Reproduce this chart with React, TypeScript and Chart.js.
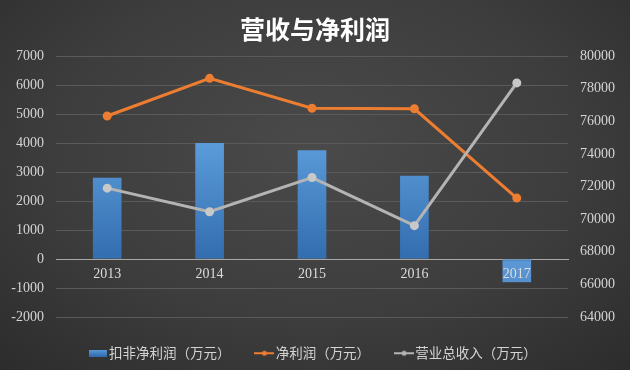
import React, { useEffect, useRef } from "react";
import { Chart, registerables } from "chart.js";

Chart.register(...registerables);

const categories = ["2013", "2014", "2015", "2016", "2017"];
const deductedNetProfit = [2800, 4000, 3750, 2870, -800];
const netProfit = [4930, 6230, 5200, 5180, 2100];
const totalRevenue = [71900, 70450, 72550, 69600, 78350];

const leftTicks = { min: -2000, max: 7000, step: 1000 };
const rightTicks = { min: 64000, max: 80000, step: 2000 };

const seriesNames = ["扣非净利润（万元）", "净利润（万元）", "营业总收入（万元）"];
const titleText = "营收与净利润";

const BLUE_TOP = "#5a9ad8";
const BLUE_BOTTOM = "#2f69ab";
const ORANGE = "#ed7d31";
const GRAY = "#b4b4b4";

function makeBarMarker(): HTMLCanvasElement {
  const c = document.createElement("canvas");
  c.width = 18;
  c.height = 7;
  const g = c.getContext("2d")!;
  const grad = g.createLinearGradient(0, 0, 0, 7);
  grad.addColorStop(0, BLUE_TOP);
  grad.addColorStop(1, BLUE_BOTTOM);
  g.fillStyle = grad;
  g.fillRect(0, 0, 18, 7);
  return c;
}

function makeLineMarker(color: string): HTMLCanvasElement {
  const c = document.createElement("canvas");
  c.width = 20;
  c.height = 8;
  const g = c.getContext("2d")!;
  g.strokeStyle = color;
  g.lineWidth = 2;
  g.beginPath();
  g.moveTo(0, 4);
  g.lineTo(20, 4);
  g.stroke();
  g.fillStyle = color;
  g.beginPath();
  g.arc(10, 4, 2.5, 0, Math.PI * 2);
  g.fill();
  return c;
}

const plainNumber = (v: any) => String(v);

export default function App() {
  const ref = useRef<HTMLCanvasElement | null>(null);

  useEffect(() => {
    if (!ref.current) return;
    const markers = [makeBarMarker(), makeLineMarker(ORANGE), makeLineMarker(GRAY)];

    const chart = new Chart(ref.current, {
      type: "bar",
      data: {
        labels: categories,
        datasets: [
          {
            type: "bar",
            label: seriesNames[0],
            data: deductedNetProfit,
            yAxisID: "y",
            order: 2,
            categoryPercentage: 1,
            barPercentage: 0.28,
            backgroundColor: (ctx: any) => {
              const { chart } = ctx;
              const area = chart.chartArea;
              if (!area) return BLUE_TOP;
              const g = chart.ctx.createLinearGradient(0, area.top, 0, area.bottom);
              g.addColorStop(0, "#69a8e6");
              g.addColorStop(0.35, BLUE_TOP);
              g.addColorStop(0.77, "#336eb0");
              g.addColorStop(0.79, "#5c98d4");
              g.addColorStop(1, "#4a82c4");
              return g;
            },
            borderWidth: 0,
          },
          {
            type: "line",
            label: seriesNames[1],
            data: netProfit,
            yAxisID: "y",
            order: 1,
            borderColor: ORANGE,
            backgroundColor: ORANGE,
            borderWidth: 3,
            pointRadius: 3,
            pointBackgroundColor: ORANGE,
            pointBorderColor: ORANGE,
            tension: 0,
          },
          {
            type: "line",
            label: seriesNames[2],
            data: totalRevenue,
            yAxisID: "y1",
            order: 0,
            borderColor: GRAY,
            backgroundColor: GRAY,
            borderWidth: 3,
            pointRadius: 3,
            pointBackgroundColor: "#c8c8c8",
            pointBorderColor: "#c8c8c8",
            tension: 0,
          },
        ] as any,
      },
      options: {
        animation: false,
        responsive: true,
        maintainAspectRatio: false,
        layout: { padding: 0 },
        scales: {
          x: {
            position: { y: 0 } as any,
            afterFit: (s: any) => {
              s.height = 0;
            },
            grid: { display: false, drawTicks: false },
            border: { display: true, color: "#a8a8a8", width: 1 },
            ticks: {
              z: 1,
              color: "#dcdcdc",
              padding: 7,
              font: { family: "'Liberation Serif', serif", size: 14 },
            } as any,
          },
          y: {
            position: "left",
            min: leftTicks.min,
            max: leftTicks.max,
            afterFit: (s: any) => {
              s.width = 56;
            },
            ticks: {
              stepSize: leftTicks.step,
              callback: plainNumber,
              color: "#d4d4d4",
              padding: 12,
              font: { family: "'Liberation Serif', serif", size: 14 },
            },
            grid: {
              color: (c: any) => (c.tick && c.tick.value === 0 ? "#a8a8a8" : "#5a5a5a"),
              drawTicks: false,
            },
            border: { display: false },
          },
          y1: {
            position: "right",
            min: rightTicks.min,
            max: rightTicks.max,
            afterFit: (s: any) => {
              s.width = 62;
            },
            ticks: {
              stepSize: rightTicks.step,
              callback: plainNumber,
              color: "#d4d4d4",
              padding: 12,
              font: { family: "'Liberation Serif', serif", size: 14 },
            },
            grid: { display: false, drawTicks: false },
            border: { display: false },
          },
        },
        plugins: {
          title: {
            display: true,
            text: titleText,
            color: "#ffffff",
            font: { family: "'Noto Sans CJK SC', sans-serif", size: 25, weight: "bold", lineHeight: 1.2 },
            padding: { top: 14, bottom: 12 },
          },
          legend: {
            display: true,
            position: "bottom",
            labels: {
              color: "#d4d4d4",
              font: { family: "'Noto Sans CJK SC', sans-serif", size: 13.5 },
              usePointStyle: true,
              pointStyleWidth: 9,
              padding: 29.5,
              generateLabels: () =>
                seriesNames.map((name, i) => ({
                  text: name,
                  fillStyle: "transparent",
                  strokeStyle: "transparent",
                  lineWidth: 0,
                  pointStyle: markers[i] as any,
                  datasetIndex: i,
                  hidden: false,
                  fontColor: "#d4d4d4",
                })),
            },
          },
          tooltip: { enabled: false },
        },
      },
    });
    return () => chart.destroy();
  }, []);

  return (
    <div
      style={{
        position: "absolute",
        left: 0,
        top: 0,
        width: 630,
        height: 370,
        background:
          "radial-gradient(ellipse 75% 85% at 50% 40%, #4a4a4a 0%, #3d3d3d 55%, #2b2b2b 100%)",
      }}
    >
      <canvas ref={ref} width={630} height={370} />
    </div>
  );
}
